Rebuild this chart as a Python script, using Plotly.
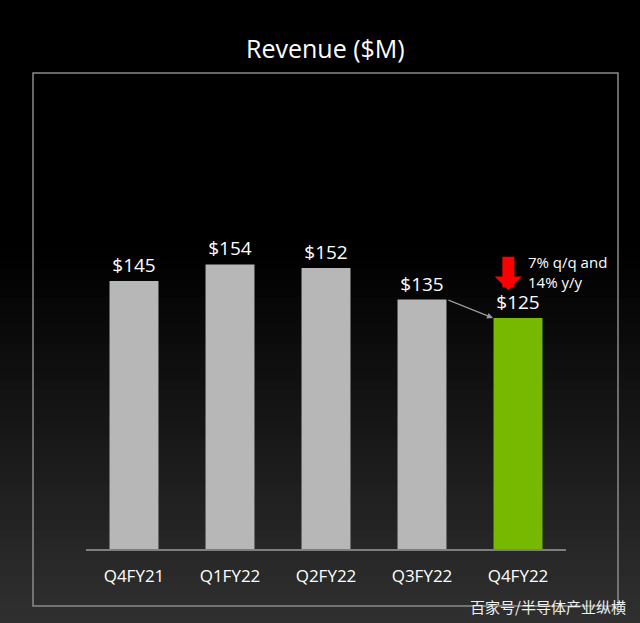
import plotly.graph_objects as go

# Data
quarters = ['Q4FY21', 'Q1FY22', 'Q2FY22', 'Q3FY22', 'Q4FY22']
revenue = [145, 154, 152, 135, 125]
labels = ['$145', '$154', '$152', '$135', '$125']
bar_colors = ['#b7b7b7', '#b7b7b7', '#b7b7b7', '#b7b7b7', '#76b900']

W, H = 640, 623
M_L, M_R, M_T, M_B = 86, 74, 80, 74
PLOT_H = H - M_T - M_B
PLOT_W = W - M_L - M_R
Y_MAX = PLOT_H / 1.848  # ~1.848 px per $M


def py(y_px):
    # pixel row -> paper y
    return (H - M_B - y_px) / PLOT_H


def px(x_px):
    return (x_px - M_L) / PLOT_W


FONT = 'Open Sans'

fig = go.Figure()
fig.add_trace(go.Bar(
    x=quarters,
    y=revenue,
    text=labels,
    textposition='outside',
    textfont=dict(color='white', size=19, family=FONT),
    marker=dict(color=bar_colors, line=dict(width=0)),
    cliponaxis=False,
    hoverinfo='skip',
))

# dark background fading to grey toward the bottom
shapes = []
start, end, n = 250, H, 40
step = (end - start) / n
for i in range(n):
    v = int(round(48 * (i + 0.5) / n))
    shapes.append(dict(
        type='rect', xref='paper', yref='paper', layer='below',
        x0=-0.5, x1=1.5, y0=py(start + (i + 1) * step + 1), y1=py(start + i * step),
        fillcolor='rgb({0},{0},{0})'.format(v), line=dict(width=0),
    ))
shapes.append(dict(
    type='rect', xref='paper', yref='paper', layer='below',
    x0=px(33), x1=px(618), y0=py(606), y1=py(73),
    line=dict(color='#8a8a8a', width=1.5), fillcolor='rgba(0,0,0,0)',
))

annotations = [
    dict(text='Revenue ($M)', xref='paper', yref='paper', x=px(325), y=py(48),
         xanchor='center', yanchor='middle', showarrow=False,
         font=dict(color='white', size=25, family=FONT)),
    # q/q pointer from Q3 to Q4
    dict(x=4 - 0.26, y=revenue[4], xref='x', yref='y',
         ax=3 + 0.26, ay=revenue[3], axref='x', ayref='y',
         text='', showarrow=True, arrowhead=2, arrowsize=1,
         arrowwidth=1.2, arrowcolor='#9a9a9a'),
    # red down arrow
    dict(x=3.9, y=revenue[4] + 15, xref='x', yref='y',
         ax=3.9, ay=revenue[4] + 34, axref='x', ayref='y',
         text='', showarrow=True, arrowhead=1, arrowsize=0.38,
         arrowwidth=12, arrowcolor='#ff0000'),
    dict(text='7% q/q and<br>14% y/y', x=4.08, y=revenue[4] + 25, xref='x', yref='y',
         xanchor='left', yanchor='middle', align='left', showarrow=False,
         font=dict(color='white', size=15, family=FONT)),
    dict(text='百家号/半导体产业纵横', xref='paper', yref='paper', x=px(628), y=py(606),
         xanchor='right', yanchor='middle', showarrow=False,
         font=dict(color='#f0f0f0', size=15, family='Noto Sans CJK SC')),
]

fig.update_layout(
    width=W, height=H,
    margin=dict(l=M_L, r=M_R, t=M_T, b=M_B),
    paper_bgcolor='black',
    plot_bgcolor='rgba(0,0,0,0)',
    bargap=0.49,
    showlegend=False,
    shapes=shapes,
    annotations=annotations,
    xaxis=dict(
        range=[-0.5, 4.5], autorange=False,
        showline=True, linecolor='#7f7f7f', linewidth=2,
        showgrid=False, zeroline=False, ticks='',
        tickfont=dict(color='white', size=17, family=FONT),
        ticklabelstandoff=11,
    ),
    yaxis=dict(range=[0, Y_MAX], visible=False, showgrid=False, zeroline=False),
)

fig.write_html('out.html', config=dict(displayModeBar=False),
               post_script="document.body.style.margin='0';document.body.style.padding='0';")
